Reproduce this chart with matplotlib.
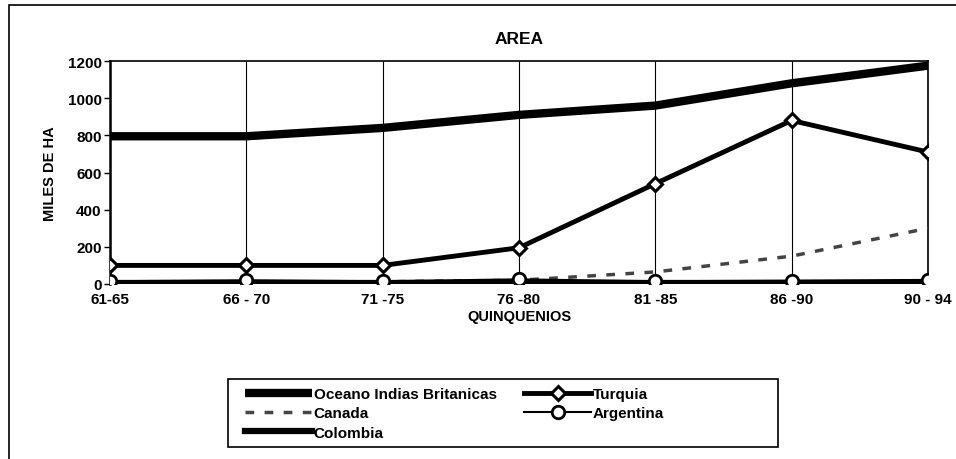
import matplotlib
matplotlib.use("Agg")
import matplotlib.pyplot as plt
from matplotlib.patches import Rectangle

plt.rcParams['font.family'] = ['Liberation Sans', 'DejaVu Sans']
plt.rcParams['font.weight'] = 'bold'

categories = ["61-65", "66 - 70", "71 -75", "76 -80", "81 -85", "86 -90", "90 - 94"]
oceano = [795, 795, 840, 910, 960, 1080, 1175]
turquia = [100, 100, 100, 195, 540, 880, 710]
canada = [5, 8, 12, 20, 65, 150, 300]
argentina = [15, 20, 15, 25, 15, 18, 22]
colombia = [5, 5, 5, 5, 5, 5, 5]

fig = plt.figure(figsize=(9.56, 4.6), dpi=100)
ax = fig.add_axes([110/956, 1-285/460, (928-110)/956, (285-62)/460])

x = list(range(len(categories)))
l_oc, = ax.plot(x, oceano, color='black', lw=6, solid_capstyle='butt', label='Oceano Indias Britanicas', zorder=3)
l_tu, = ax.plot(x, turquia, color='black', lw=3.5, marker='D', ms=7, mfc='white', mec='black', mew=2.2,
                label='Turquia', zorder=4)
l_ca, = ax.plot(x, canada, color='#444444', lw=2.5, ls=(0, (2.5, 3)), label='Canada', zorder=3)
l_co, = ax.plot(x, colombia, color='black', lw=4.5, label='Colombia', zorder=3)
l_ar, = ax.plot(x, argentina, color='black', lw=1.5, marker='o', ms=9, mfc='white', mec='black', mew=2,
                label='Argentina', zorder=5)

ax.set_xlim(0, len(categories) - 1)
ax.set_ylim(0, 1200)
ax.set_yticks(range(0, 1201, 200))
ax.set_xticks(x)
ax.set_xticklabels(categories)
ax.grid(axis='x', color='black', lw=0.8)
ax.spines['left'].set_linewidth(1.8)
ax.spines['top'].set_linewidth(1.2)
ax.spines['bottom'].set_visible(False)
ax.spines['right'].set_linewidth(1.2)
ax.tick_params(axis='y', length=4, width=1, labelsize=11, pad=2)
ax.tick_params(axis='x', length=0, labelsize=11, pad=6)
for lab in ax.get_xticklabels() + ax.get_yticklabels():
    lab.set_fontweight('bold')

ax.set_title('AREA', fontsize=12.5, fontweight='bold', pad=13)
ax.set_ylabel('MILES DE HA', fontsize=10.5, fontweight='bold', labelpad=8)
ax.set_xlabel('QUINQUENIOS', fontsize=10.5, fontweight='bold', labelpad=2)

leg = fig.legend([l_oc, l_ca, l_co, l_tu, l_ar],
                 ['Oceano Indias Britanicas', 'Canada', 'Colombia', 'Turquia', 'Argentina'],
                 ncol=2, loc='upper left', bbox_to_anchor=(245/956, 1-388/460),
                 frameon=False, fontsize=11, borderpad=0, borderaxespad=0,
                 handlelength=4.4, handletextpad=0.1, columnspacing=1.8, labelspacing=0.35)
for t in leg.get_texts():
    t.set_fontweight('bold')

fig.patches.append(Rectangle((228/956, 1-448/460), (778-228)/956, (448-380)/460, transform=fig.transFigure,
                             fill=False, edgecolor='black', lw=1.2))
fig.patches.append(Rectangle((9/956, -0.01), 1.0, 1 - 6/460 + 0.01, transform=fig.transFigure,
                             fill=False, edgecolor='black', lw=1.2))

fig.savefig('out.png', dpi=100)
